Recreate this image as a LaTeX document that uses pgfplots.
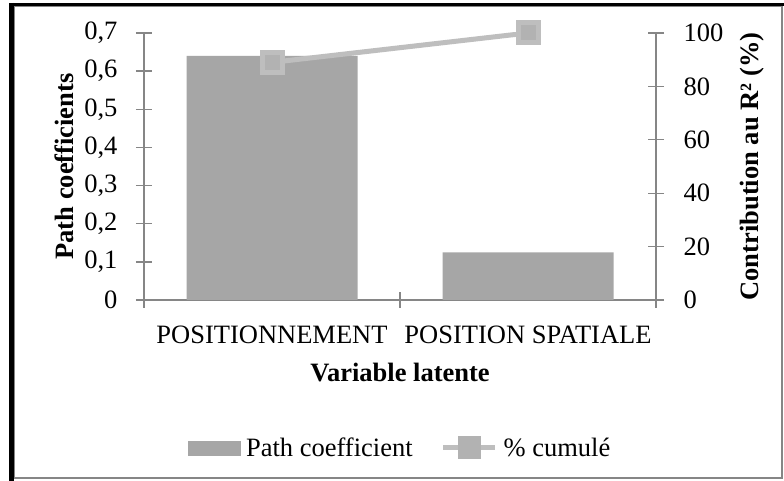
\documentclass[border=0pt]{standalone}
\usepackage{fontspec}
\setmainfont{Liberation Serif}
\usepackage{pgfplots}
\pgfplotsset{compat=1.18}
\definecolor{axisgray}{HTML}{868686}
\definecolor{bargray}{HTML}{A6A6A6}
\definecolor{linegray}{HTML}{BEBEBE}
\definecolor{markgray}{HTML}{B2B2B2}
\newcommand{\bigfont}{\fontsize{26.5}{31}\selectfont}
\pgfplotsset{
  common/.style={
    at={(144pt,181pt)}, anchor=south west, scale only axis,
    width=512pt, height=267pt,
    xmin=-0.5, xmax=1.5,
    axis line style={-, axisgray, line width=1.3pt},
    tick align=center, major tick length=16pt,
    tick style={axisgray, line width=1.3pt},
    tick label style={font=\bigfont},
    label style={font=\bigfont\bfseries},
    /pgf/number format/assume math mode=true,
  }
}
\begin{document}
\begin{tikzpicture}
\useasboundingbox (0pt,0pt) rectangle (784pt,481pt);
\fill[white] (0pt,0pt) rectangle (784pt,481pt);
\draw[axisgray, line width=1.5pt] (14pt,3pt) rectangle (782pt,475pt);
\draw[black, line width=3pt] (9pt,476.5pt) -- (784pt,476.5pt);
\draw[black, line width=4.5pt] (11.5pt,478pt) -- (11.5pt,0pt);

\begin{axis}[common,
  ymin=0, ymax=0.7,
  axis x line*=bottom, axis y line*=left,
  xtick={-0.5,0.5,1.5}, x tick label as interval,
  xticklabels={POSITIONNEMENT,POSITION SPATIALE},
  xticklabel style={yshift=-14pt},
  ytick={0,0.1,0.2,0.3,0.4,0.5,0.6,0.7},
  yticklabels={0,{0,1},{0,2},{0,3},{0,4},{0,5},{0,6},{0,7}},
  yticklabel style={xshift=-15pt},
  xlabel={Variable latente},
  xlabel style={at={(axis description cs:0.5,-0.27)}, anchor=center},
  ylabel={Path coefficients},
  ylabel style={at={(axis description cs:-0.156,0.5)}, anchor=center},
]
\addplot[ybar, bar width=171pt, fill=bargray, draw=none] coordinates {(0,0.64) (1,0.125)};
\end{axis}

\begin{axis}[common,
  ymin=0, ymax=100,
  axis x line=none, axis y line*=right,
  xtick=\empty,
  ytick={0,20,40,60,80,100},
  yticklabel style={xshift=16pt},
  ylabel={Contribution au R² (\%)},
  ylabel style={at={(axis description cs:1.1875,0.5)}, anchor=center},
  legend columns=2,
  legend style={at={(axis description cs:0.5,-0.554)}, anchor=center, draw=none, fill=none,
    font=\bigfont,
    /tikz/every odd column/.append style={column sep=4pt},
    /tikz/every even column/.append style={column sep=26pt}},
]
\addlegendimage{legend image code/.code={\fill[bargray] (0pt,-7pt) rectangle (52pt,7pt);}}
\addlegendentry{Path coefficient}
\addplot[linegray, line width=5pt, mark=square*, mark size=10pt,
  mark options={fill=markgray, draw=none},
  legend image code/.code={\draw[linegray, line width=5pt] (0pt,0pt) -- (52pt,0pt);
    \fill[markgray] (17pt,-9pt) rectangle (35pt,9pt);}]
  coordinates {(0,89) (1,100)};
\addlegendentry{\% cumulé}
\end{axis}
\end{tikzpicture}
\end{document}
